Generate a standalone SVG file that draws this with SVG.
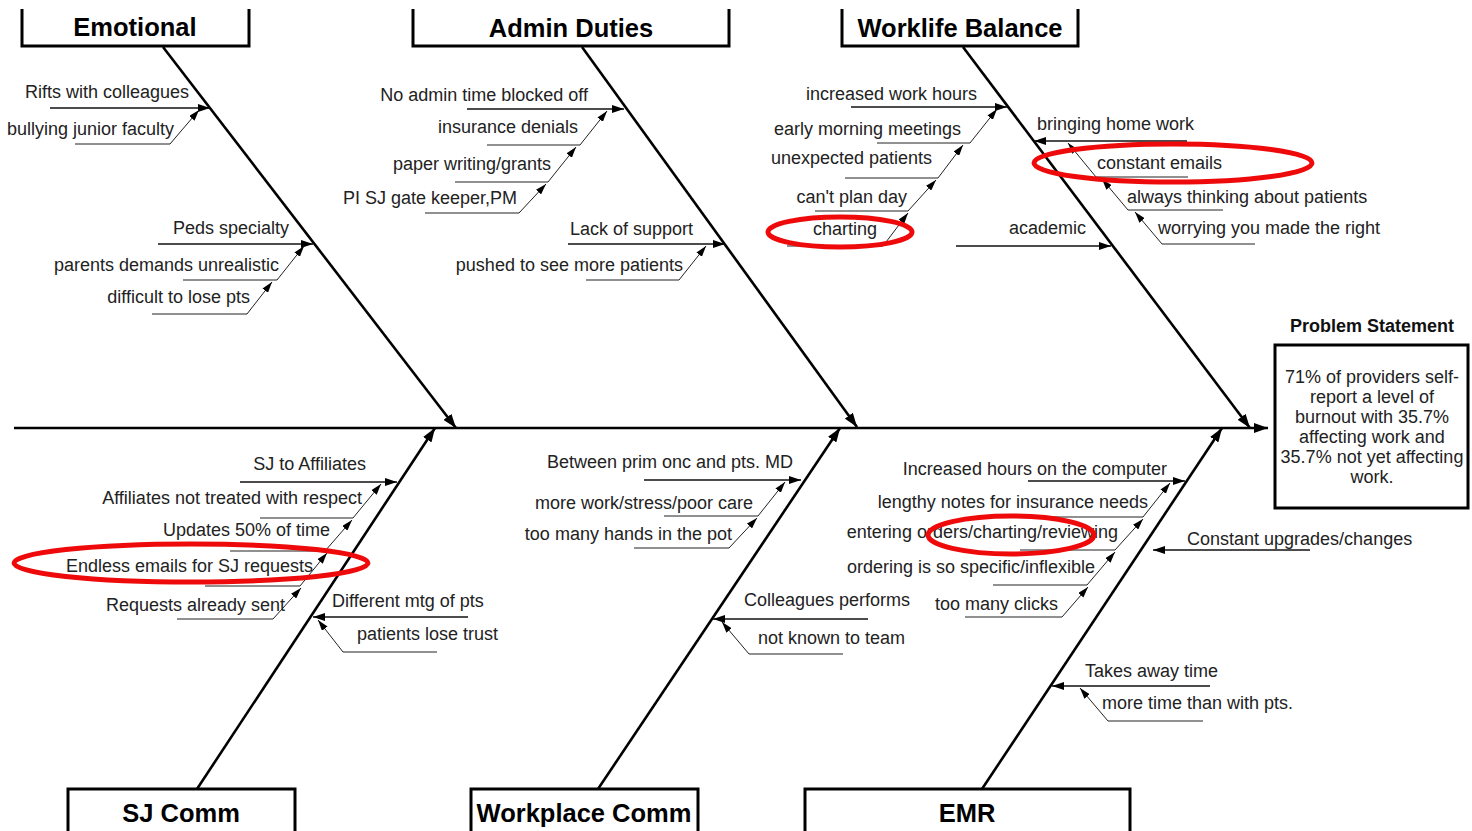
<svg xmlns="http://www.w3.org/2000/svg" width="1472" height="831" viewBox="0 0 1472 831">
<style>
text{font-family:"Liberation Sans",Arial,sans-serif;fill:#222;}
.lbl{font-size:18px;}
.l{text-anchor:end;}
.title{font-size:25.5px;font-weight:bold;fill:#000;text-anchor:middle;}
.box{fill:#fff;stroke:#000;stroke-width:3;}
.bone{fill:none;stroke:#000;stroke-width:2.6;}
.pri{fill:none;stroke:#111;stroke-width:1.4;}
.sec{fill:none;stroke:#222;stroke-width:1;}
.hl{fill:none;stroke:#ee0a0a;stroke-width:5;}
.ps{font-size:18px;text-anchor:middle;}
</style>
<defs>
<marker id="ab" viewBox="0 0 14 10" refX="14" refY="5" markerWidth="14" markerHeight="10" markerUnits="userSpaceOnUse" orient="auto"><path d="M0,0 L14,5 L0,10 z" fill="#000"/></marker>
<marker id="ap" viewBox="0 0 12 8" refX="12" refY="4" markerWidth="12" markerHeight="8" markerUnits="userSpaceOnUse" orient="auto"><path d="M0,0 L12,4 L0,8 z" fill="#000"/></marker>
<marker id="as" viewBox="0 0 11 7" refX="11" refY="3.5" markerWidth="11" markerHeight="7" markerUnits="userSpaceOnUse" orient="auto"><path d="M0,0 L11,3.5 L0,7 z" fill="#000"/></marker>
</defs>
<rect width="1472" height="831" fill="#fff"/>

<g id="connectors">
<path class="bone" d="M14,428 H1268" marker-end="url(#ab)"/>
<path class="bone" d="M163,47 L456,428" marker-end="url(#ab)"/>
<path class="bone" d="M582,47 L857,427" marker-end="url(#ab)"/>
<path class="bone" d="M963,47 L1250,428" marker-end="url(#ab)"/>
<path class="bone" d="M197,789 L435,428" marker-end="url(#ab)"/>
<path class="bone" d="M598,789 L840,428" marker-end="url(#ab)"/>
<path class="bone" d="M982,789 L1222,428" marker-end="url(#ab)"/>

<path class="pri" d="M50,108 H210" marker-end="url(#ap)"/>
<path class="sec" d="M75,144 H170 L199,110" marker-end="url(#as)"/>
<path class="pri" d="M158,244 H313" marker-end="url(#ap)"/>
<path class="sec" d="M183,280 H277 L304,246" marker-end="url(#as)"/>
<path class="sec" d="M152,314 H247 L272,282" marker-end="url(#as)"/>

<path class="pri" d="M467,109 H624" marker-end="url(#ap)"/>
<path class="sec" d="M487,145 H580 L607,111" marker-end="url(#as)"/>
<path class="sec" d="M455,182 H548 L576,147" marker-end="url(#as)"/>
<path class="sec" d="M425,213 H519 L546,184" marker-end="url(#as)"/>
<path class="pri" d="M568,244 H725" marker-end="url(#ap)"/>
<path class="sec" d="M586,280 H679 L706,246" marker-end="url(#as)"/>

<path class="pri" d="M851,107 H1007" marker-end="url(#ap)"/>
<path class="sec" d="M877,143 H970 L997,109" marker-end="url(#as)"/>
<path class="sec" d="M845,178 H938 L963,145" marker-end="url(#as)"/>
<path class="sec" d="M815,211 H908 L936,180" marker-end="url(#as)"/>
<path class="sec" d="M787,246 H883 L908,213" marker-end="url(#as)"/>
<path class="pri" d="M956,246 H1111" marker-end="url(#ap)"/>
<path class="pri" d="M1187,141 H1034" marker-end="url(#ap)"/>
<path class="sec" d="M1188,177 H1096 L1068,143" marker-end="url(#as)"/>
<path class="sec" d="M1223,210 H1128 L1102,179" marker-end="url(#as)"/>
<path class="sec" d="M1255,244 H1162 L1135,212" marker-end="url(#as)"/>

<path class="pri" d="M240,482 H397" marker-end="url(#ap)"/>
<path class="sec" d="M260,518 H353 L381,484" marker-end="url(#as)"/>
<path class="sec" d="M230,551 H325 L352,520" marker-end="url(#as)"/>
<path class="sec" d="M205,586 H300 L327,553" marker-end="url(#as)"/>
<path class="sec" d="M177,619 H273 L301,588" marker-end="url(#as)"/>
<path class="pri" d="M468,617 H313" marker-end="url(#ap)"/>
<path class="sec" d="M437,652 H343 L318,620" marker-end="url(#as)"/>

<path class="pri" d="M644,480 H801" marker-end="url(#ap)"/>
<path class="sec" d="M664,516 H758 L785,482" marker-end="url(#as)"/>
<path class="sec" d="M634,548 H729 L757,518" marker-end="url(#as)"/>
<path class="pri" d="M868,619 H713" marker-end="url(#ap)"/>
<path class="sec" d="M843,654 H749 L722,622" marker-end="url(#as)"/>

<path class="pri" d="M1028,481 H1185" marker-end="url(#ap)"/>
<path class="sec" d="M1048,517 H1143 L1170,483" marker-end="url(#as)"/>
<path class="sec" d="M1020,550 H1115 L1143,519" marker-end="url(#as)"/>
<path class="sec" d="M993,585 H1087 L1115,552" marker-end="url(#as)"/>
<path class="sec" d="M965,617 H1062 L1088,587" marker-end="url(#as)"/>
<path class="pri" d="M1310,550 H1153" marker-end="url(#ap)"/>
<path class="pri" d="M1210,686 H1052" marker-end="url(#ap)"/>
<path class="sec" d="M1203,721 H1108 L1080,688" marker-end="url(#as)"/>
</g>

<g id="cat-emotional">
<path class="box" d="M22,9 V46 H249 V9"/>
<text class="title" x="135" y="36">Emotional</text>
</g>
<g id="cat-admin">
<path class="box" d="M413,9 V46 H729 V9"/>
<text class="title" x="571" y="37">Admin Duties</text>
</g>
<g id="cat-worklife">
<path class="box" d="M842,9 V46 H1078 V9"/>
<text class="title" x="960" y="37">Worklife Balance</text>
</g>
<g id="cat-sjcomm">
<rect class="box" x="68" y="789" width="227" height="60"/>
<text class="title" x="181" y="822">SJ Comm</text>
</g>
<g id="cat-workplace">
<rect class="box" x="471" y="789" width="227" height="60"/>
<text class="title" x="584" y="822">Workplace Comm</text>
</g>
<g id="cat-emr">
<rect class="box" x="805" y="789" width="325" height="60"/>
<text class="title" x="967" y="822">EMR</text>
</g>

<g id="problem">
<text x="1372" y="332" style="font-size:18px;font-weight:bold;text-anchor:middle;fill:#111">Problem Statement</text>
<rect class="box" x="1275" y="345" width="193" height="163"/>
<text class="ps" x="1372" y="383">71% of providers self-</text>
<text class="ps" x="1372" y="403">report a level of</text>
<text class="ps" x="1372" y="423">burnout with 35.7%</text>
<text class="ps" x="1372" y="443">affecting work and</text>
<text class="ps" x="1372" y="463">35.7% not yet affecting</text>
<text class="ps" x="1372" y="483">work.</text>
</g>

<g id="causes-emotional" class="lbl">
<text class="l" x="189" y="98">Rifts with colleagues</text>
<text class="l" x="174" y="135">bullying junior faculty</text>
<text class="l" x="289" y="234">Peds specialty</text>
<text class="l" x="279" y="271">parents demands unrealistic</text>
<text class="l" x="250" y="303">difficult to lose pts</text>
</g>
<g id="causes-admin" class="lbl">
<text class="l" x="588" y="101">No admin time blocked off</text>
<text class="l" x="578" y="133">insurance denials</text>
<text class="l" x="551" y="170">paper writing/grants</text>
<text class="l" x="517" y="204">PI SJ gate keeper,PM</text>
<text class="l" x="693" y="235">Lack of support</text>
<text class="l" x="683" y="271">pushed to see more patients</text>
</g>
<g id="causes-worklife" class="lbl">
<text class="l" x="977" y="100">increased work hours</text>
<text class="l" x="961" y="135">early morning meetings</text>
<text class="l" x="932" y="164">unexpected patients</text>
<text class="l" x="907" y="203">can't plan day</text>
<text class="l" x="877" y="235">charting</text>
<text class="l" x="1086" y="234">academic</text>
<text x="1037" y="130">bringing home work</text>
<text x="1097" y="169">constant emails</text>
<text x="1127" y="203">always thinking about patients</text>
<text x="1158" y="234">worrying you made the right</text>
</g>
<g id="causes-sjcomm" class="lbl">
<text class="l" x="366" y="470">SJ to Affiliates</text>
<text class="l" x="362" y="504">Affiliates not treated with respect</text>
<text class="l" x="330" y="536">Updates 50% of time</text>
<text class="l" x="313" y="572">Endless emails for SJ requests</text>
<text class="l" x="285" y="611">Requests already sent</text>
<text x="332" y="607">Different mtg of pts</text>
<text x="357" y="640">patients lose trust</text>
</g>
<g id="causes-workplace" class="lbl">
<text class="l" x="793" y="468">Between prim onc and pts. MD</text>
<text class="l" x="753" y="509">more work/stress/poor care</text>
<text class="l" x="732" y="540">too many hands in the pot</text>
<text x="744" y="606">Colleagues performs</text>
<text x="758" y="644">not known to team</text>
</g>
<g id="causes-emr" class="lbl">
<text class="l" x="1167" y="475">Increased hours on the computer</text>
<text class="l" x="1148" y="508">lengthy notes for insurance needs</text>
<text class="l" x="1118" y="538">entering orders/charting/reviewing</text>
<text class="l" x="1095" y="573">ordering is so specific/inflexible</text>
<text class="l" x="1058" y="610">too many clicks</text>
<text x="1187" y="545">Constant upgrades/changes</text>
<text x="1085" y="677">Takes away time</text>
<text x="1102" y="709">more time than with pts.</text>
</g>

<g id="highlights">
<ellipse class="hl" cx="840" cy="232" rx="72" ry="15"/>
<ellipse class="hl" cx="1173" cy="163" rx="139" ry="19"/>
<ellipse class="hl" cx="191" cy="563" rx="177" ry="19"/>
<ellipse class="hl" cx="1011" cy="535" rx="83" ry="19"/>
</g>
</svg>
